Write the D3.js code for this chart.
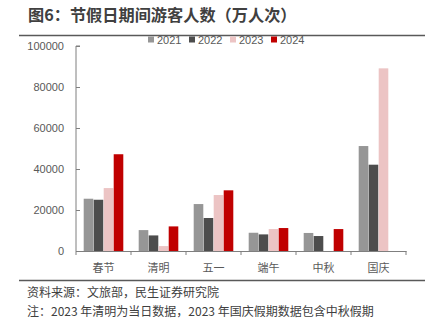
<!DOCTYPE html>
<html><head><meta charset="utf-8">
<script src="https://cdn.jsdelivr.net/npm/d3@7"></script>
<style>body{margin:0;background:#fff;} svg{display:block;font-family:"Noto Sans CJK SC","Noto Sans",sans-serif;}</style>
</head><body>
<svg id="c" width="431" height="321"></svg>
<script>
const categories = ["春节","清明","五一","端午","中秋","国庆"];
const years = ["2021","2022","2023","2024"];
const v2021 = [25500, 10200, 22900, 8900, 8800, 51200];
const v2022 = [25000, 7600, 16100, 8100, 7300, 42100];
const v2023 = [30700, 2400, 27300, 10700, 0, 89100];
const v2024 = [47200, 12000, 29600, 11200, 10700, 0];
const yTicks = [0, 20000, 40000, 60000, 80000, 100000];
const colors = ["#969696", "#4d4d4d", "#ecc4c4", "#c00000"];
const series = [v2021, v2022, v2023, v2024];

const svg = d3.select("#c");
const txt = "#595959";

svg.append("text").attr("x", 28).attr("y", 21).attr("font-size", 16.2).attr("font-weight", "bold")
  .attr("fill", "#404040").text("图6：节假日期间游客人数（万人次）");
svg.append("line").attr("x1", 19).attr("x2", 425).attr("y1", 35.5).attr("y2", 35.5)
  .attr("stroke", "#595959").attr("stroke-width", 1.5);

const x = d3.scaleBand().domain(categories).range([76, 406]).paddingInner(0).paddingOuter(0);
const xs = d3.scaleBand().domain(years).range([7.3, x.bandwidth() - 7.3]).padding(0.04);
const y = d3.scaleLinear().domain([0, 100000]).range([251, 46]);

// bars
series.forEach((vals, i) => {
  svg.append("g").selectAll("rect").data(vals.map((v, j) => ({c: categories[j], v})).filter(d => d.v > 0))
    .join("rect")
    .attr("x", d => x(d.c) + xs(years[i]))
    .attr("width", xs.bandwidth())
    .attr("y", d => y(d.v))
    .attr("height", d => y(0) - y(d.v))
    .attr("fill", colors[i]);
});

// y axis
const ya = svg.append("g").attr("transform", "translate(76,0)")
  .call(d3.axisRight(y).tickValues(yTicks).tickSize(4).tickFormat(""));
ya.select(".domain").attr("stroke", "#7f7f7f").attr("d", "M4,46H0V251");
ya.selectAll(".tick line").attr("stroke", "#7f7f7f");
svg.append("g").selectAll("text").data(yTicks).join("text")
  .attr("x", 64).attr("y", d => y(d) + 4).attr("text-anchor", "end")
  .attr("font-size", 11).attr("fill", txt).attr("font-family", "Liberation Sans, Arial, sans-serif")
  .text(d => d);

// x axis
const xa = svg.append("g").attr("transform", "translate(0,251)")
  .call(d3.axisBottom(x).tickSize(0).tickFormat(""));
xa.select(".domain").attr("stroke", "#7f7f7f");
svg.append("g").selectAll("line").data(categories.concat(["end"])).join("line")
  .attr("x1", (d, i) => i < categories.length ? x(d) : x.range()[1])
  .attr("x2", (d, i) => i < categories.length ? x(d) : x.range()[1])
  .attr("y1", 251).attr("y2", 255).attr("stroke", "#7f7f7f");
svg.append("g").selectAll("text").data(categories).join("text")
  .attr("x", d => x(d) + x.bandwidth() / 2).attr("y", 272).attr("text-anchor", "middle")
  .attr("font-size", 11).attr("fill", txt).text(d => d);

// legend
const lx = [148, 189, 230, 271];
years.forEach((yr, i) => {
  svg.append("rect").attr("x", lx[i]).attr("y", 36.5).attr("width", 6).attr("height", 6).attr("fill", colors[i]);
  svg.append("text").attr("x", lx[i] + 9).attr("y", 44).attr("font-size", 11).attr("fill", txt)
    .attr("font-family", "Liberation Sans, Arial, sans-serif").text(yr);
});

// footer
svg.append("line").attr("x1", 19).attr("x2", 425).attr("y1", 280.5).attr("y2", 280.5)
  .attr("stroke", "#595959").attr("stroke-width", 1.5);
svg.append("text").attr("x", 27).attr("y", 296.5).attr("font-size", 12).attr("fill", "#404040")
  .text("资料来源：文旅部，民生证券研究院");
svg.append("text").attr("x", 27).attr("y", 315.5).attr("font-size", 12).attr("fill", "#404040")
  .text("注：2023 年清明为当日数据，2023 年国庆假期数据包含中秋假期");
</script>
</body></html>
